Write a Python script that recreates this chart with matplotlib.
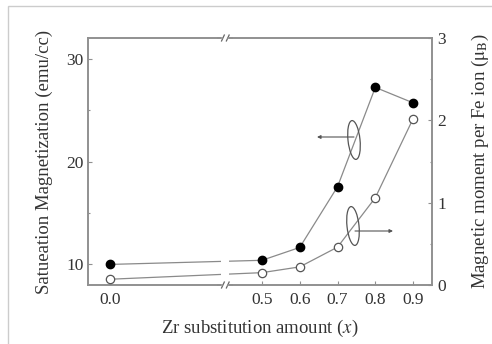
import numpy as np
import matplotlib
matplotlib.use("Agg")
import matplotlib.pyplot as plt
from matplotlib.patches import Ellipse, Rectangle
from matplotlib.transforms import ScaledTranslation

plt.rcParams['font.family'] = ['Liberation Serif', 'DejaVu Serif']
plt.rcParams['mathtext.fontset'] = 'stix'

# data
zr = [0.0, 0.5, 0.6, 0.7, 0.8, 0.9]
ms = [10.0, 10.4, 11.65, 17.55, 27.2, 25.7]        # emu/cc, left axis
moment = [0.07, 0.15, 0.22, 0.46, 1.06, 2.02]      # mu_B, right axis
xtick_vals = [0.0, 0.5, 0.6, 0.7, 0.8, 0.9]
xtick_labels = ['0.0', '0.5', '0.6', '0.7', '0.8', '0.9']

# broken x axis: squeeze the 0.0 - 0.5 stretch
k = 0.804
def fwd(x):
    x = np.asarray(x, dtype=float)
    return np.where(x >= 0.5, x, 0.5 - (0.5 - x) * k)
def inv(u):
    u = np.asarray(u, dtype=float)
    return np.where(u >= 0.5, u, 0.5 - (0.5 - u) / k)

fig = plt.figure(figsize=(4.92, 3.44), dpi=100)
ax = fig.add_axes([88/492, 59/344, 344/492, 247/344])
ax2 = ax.twinx()
ax.set_xscale('function', functions=(fwd, inv))
ax.set_xlim(-0.0725, 0.95)
ax.set_ylim(8, 32)
ax2.set_ylim(0, 3)

txt = '#333333'
spc = '#909090'
ax.plot(zr, ms, '-', color='#8a8a8a', lw=0.9, marker='o', ms=6,
        mfc='black', mec='black', zorder=3)
ax2.plot(zr, moment, '-', color='#8a8a8a', lw=0.9, marker='o', ms=6,
         mfc='white', mec='#555555', mew=0.9, zorder=3)

ax.set_xticks(xtick_vals)
ax.set_xticklabels(xtick_labels)
ax.set_yticks([10, 20, 30])
ax.set_yticks([15, 25], minor=True)
ax2.set_yticks([0, 1, 2, 3])
ax2.set_yticks([0.5, 1.5, 2.5], minor=True)
ax.xaxis.set_minor_locator(matplotlib.ticker.NullLocator())

for a in (ax, ax2):
    for s in a.spines.values():
        s.set_color(spc)
        s.set_linewidth(1.2)
    a.tick_params(which='major', direction='in', length=3, width=0.8,
                  color=spc, labelsize=12.5, labelcolor=txt)
    a.tick_params(which='minor', direction='in', length=1.5, width=0.8, color=spc)
ax.tick_params(axis='x', pad=5)
ax.tick_params(axis='y', pad=3)
ax2.tick_params(axis='y', pad=4)

ax.set_xlabel('Zr substitution amount ($\\mathit{x}$)', fontsize=13.5, color=txt, labelpad=7)
ax.set_ylabel('Satueation Magnetization (emu/cc)', fontsize=13.5, color=txt, labelpad=10)
ax2.set_ylabel('Magnetic moment per Fe ion ($\\mathrm{\\mu_B}$)', fontsize=13.5,
               color=txt, labelpad=17)

# axis break marks
bx = (225 - 88) / 344
ax2.add_patch(Rectangle((bx - 0.012, -0.02), 0.024, 1.04, transform=ax.transAxes,
                        facecolor='white', edgecolor='none', clip_on=False, zorder=5))
for yb in (0.0, 1.0):
    for dx in (-0.010, 0.004):
        ax2.plot([bx + dx, bx + dx + 0.008], [yb - 0.012, yb + 0.012],
                 transform=ax.transAxes, color='#666666', lw=0.9,
                 clip_on=False, zorder=6)
    ax2.plot([bx - 0.02, bx - 0.008], [yb, yb], transform=ax.transAxes,
             color=spc, lw=1.2, clip_on=False, zorder=6)
    ax2.plot([bx + 0.010, bx + 0.02], [yb, yb], transform=ax.transAxes,
             color=spc, lw=1.2, clip_on=False, zorder=6)

# ellipses with arrows pointing to their axes
for cx, cy in [((354 - 88) / 344, (285 - 140) / 247),
               ((353 - 88) / 344, (285 - 226) / 247)]:
    tr = fig.dpi_scale_trans + ScaledTranslation(cx, cy, ax.transAxes)
    ax2.add_patch(Ellipse((0, 0), 0.12, 0.39, angle=6, transform=tr,
                          fill=False, edgecolor='#555555', lw=0.9, zorder=4))
ax2.annotate('', xy=((317 - 88) / 344, (285 - 137) / 247),
             xytext=((354 - 88) / 344, (285 - 137) / 247),
             xycoords='axes fraction',
             arrowprops=dict(arrowstyle='-|>', color='#555555', lw=0.8,
                             mutation_scale=5, shrinkA=0, shrinkB=0))
ax2.annotate('', xy=((393 - 88) / 344, (285 - 231) / 247),
             xytext=((355 - 88) / 344, (285 - 231) / 247),
             xycoords='axes fraction',
             arrowprops=dict(arrowstyle='-|>', color='#555555', lw=0.8,
                             mutation_scale=5, shrinkA=0, shrinkB=0))

# light frame around the picture
fig.patches.append(Rectangle((8/492, -0.1), 1.2, 1 - 6/344 + 0.1,
                             transform=fig.transFigure, fill=False,
                             edgecolor='#cccccc', lw=1))

fig.savefig('out.png', dpi=100)
